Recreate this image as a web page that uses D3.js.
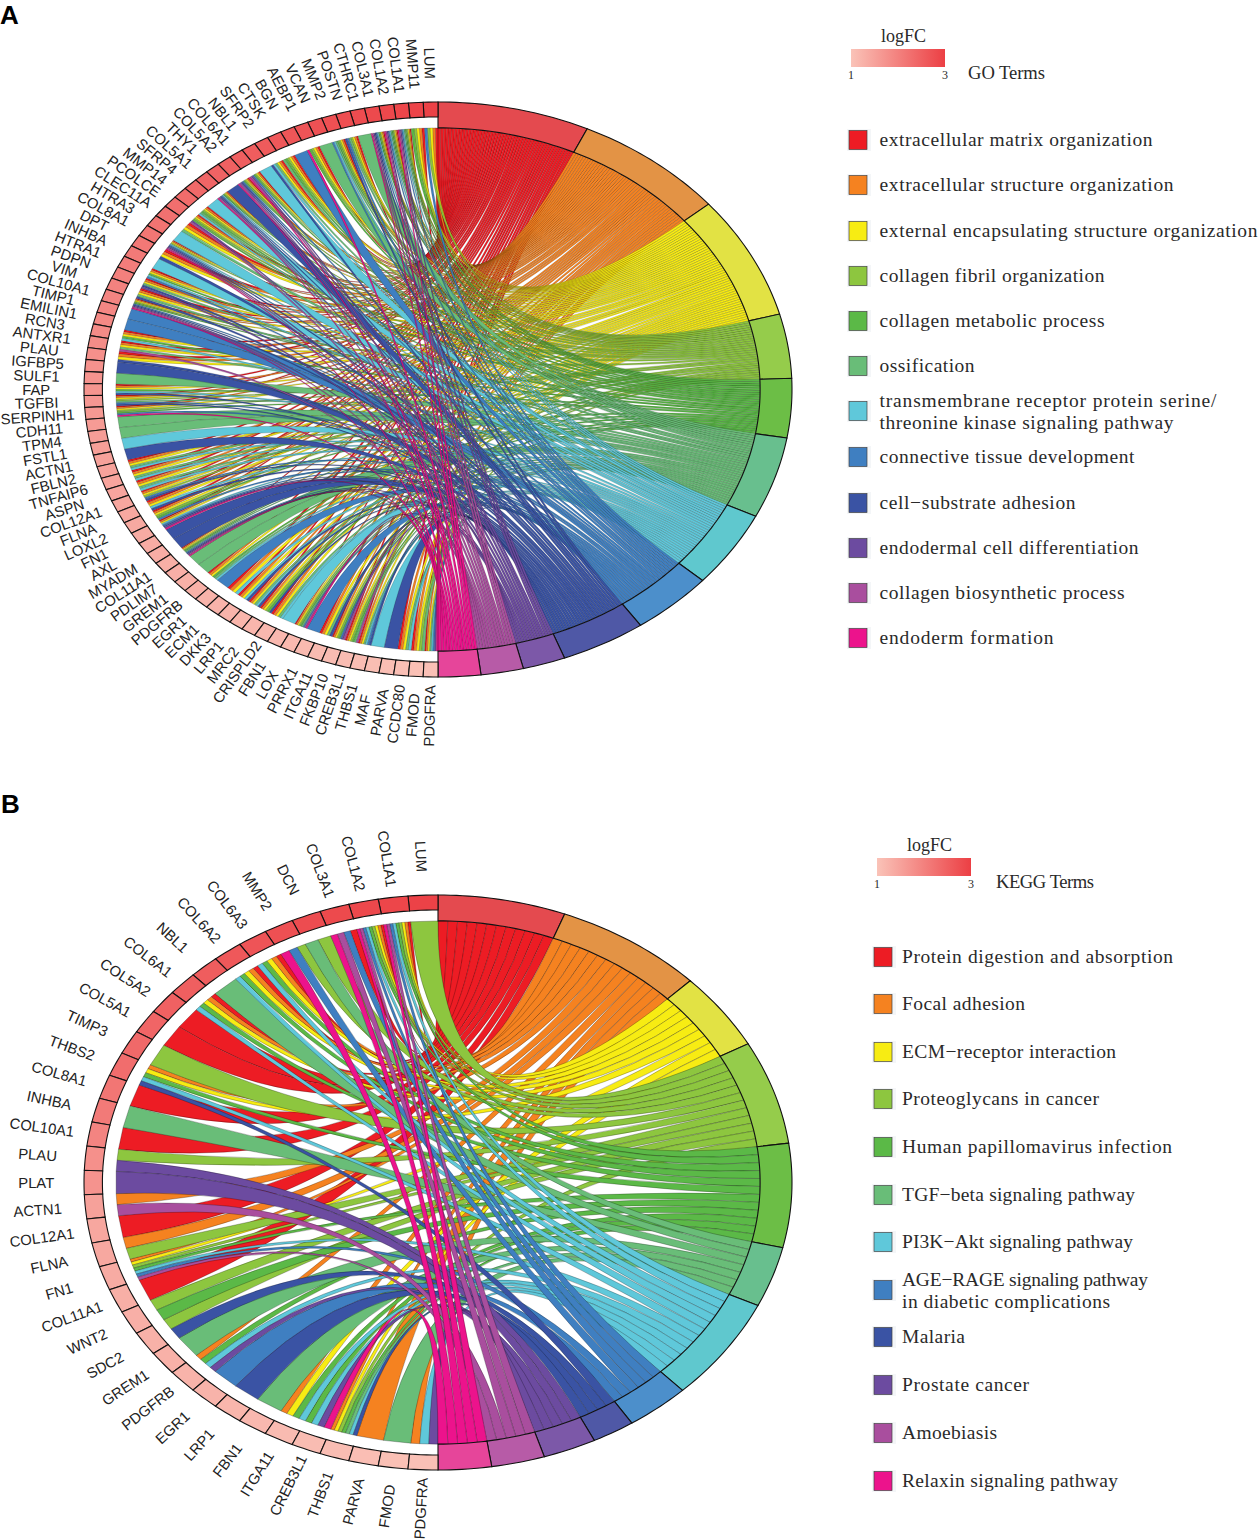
<!DOCTYPE html>
<html><head><meta charset="utf-8">
<script src="https://cdn.jsdelivr.net/npm/d3@7"></script>
<style>html,body{margin:0;padding:0;background:#fff}svg{display:block}</style></head>
<body><svg id="c" width="1258" height="1540"></svg>
<script>
const ribbonColors = ["#ED1C24","#F58220","#F7EC13","#8DC63F","#5BB947","#69BD78","#5FC8DA","#3F7FC1","#3A53A4","#6C4BA0","#A94E9E","#EC138C"];
const bandColors = ["#E44A4F","#E39345","#E2E244","#95CC4B","#6CBE46","#68BF8E","#5FC8CE","#4C8FCB","#4F58A6","#7C58A8","#B75BA7","#E6459A"];

const termsA = ["extracellular matrix organization","extracellular structure organization","external encapsulating structure organization","collagen fibril organization","collagen metabolic process","ossification",["transmembrane receptor protein serine/","threonine kinase signaling pathway"],"connective tissue development","cell\u2212substrate adhesion","endodermal cell differentiation","collagen biosynthetic process","endoderm formation"];
const genesA = ["LUM","MMP11","COL1A1","COL1A2","COL3A1","CTHRC1","POSTN","MMP2","VCAN","AEBP1","BGN","CTSK","SFRP2","NBL1","COL6A1","COL5A2","THY1","COL5A1","SFRP4","MMP14","PCOLCE","CLEC11A","HTRA3","COL8A1","DPT","INHBA","HTRA1","PDPN","VIM","COL10A1","TIMP1","EMILIN1","RCN3","ANTXR1","PLAU","IGFBP5","SULF1","FAP","TGFBI","SERPINH1","CDH11","TPM4","FSTL1","ACTN1","FBLN2","TNFAIP6","ASPN","COL12A1","FLNA","LOXL2","FN1","AXL","MYADM","COL11A1","PDLIM7","GREM1","PDGFRB","EGR1","ECM1","DKK3","LRP1","MRC2","CRISPLD2","FBN1","LOX","PRRX1","ITGA11","FKBP10","CREB3L1","THBS1","MAF","PARVA","CCDC80","FMOD","PDGFRA"];
const logFCA = [2.95,2.92,2.9,2.86,2.84,2.8,2.78,2.74,2.72,2.68,2.65,2.62,2.58,2.55,2.52,2.48,2.45,2.42,2.36,2.32,2.28,2.25,2.2,2.17,2.13,2.1,2.06,2.02,1.98,1.95,1.92,1.88,1.85,1.82,1.78,1.75,1.72,1.7,1.66,1.63,1.6,1.57,1.55,1.52,1.5,1.47,1.45,1.43,1.41,1.39,1.37,1.35,1.33,1.31,1.3,1.28,1.27,1.25,1.24,1.22,1.2,1.19,1.18,1.16,1.15,1.14,1.12,1.11,1.1,1.09,1.08,1.07,1.06,1.05,1.04];
const membersA = [[1,2,3,4,8],[1,2,3,4,5],[1,2,3,4,5,6,7,8,10,11,12],[1,2,3,4,5,6,7,8,10,11,12],[1,2,3,4,5,7,8,9,10,11,12],[6],[1,2,3,4,6,8,9],[1,2,3,4,5,6,7,8],[6],[1,2,3,4,5,12],[8],[1,2,3,4,5,6],[1,2,3,6,7,9],[7],[1,2,3,4,5,8,10,11,12],[1,2,3,4,5,8,9,10,11,12],[9],[1,2,3,4,5,7,8,9,10,11,12],[7],[1,2,3,4,5,6,7],[1,2,3,4,5,10,11],[1,2,3,6],[7],[1,2,3,4,7,8,9,10,11,12],[1,2,3,9],[7],[1,2,3,5,7,8],[1,2,3,6,9,10],[1,2,3,6,9],[1,2,3,4,5,8,9,10,11,12],[8],[8],[1,2,3,5,7],[1,2,3,6,11],[1,2,3,9],[9],[6],[1,2,3,5,7,9],[1,2,3,4,6,8,9],[1,2,3,4,5,8,12],[6],[6],[7],[9],[1,2,3,6,7],[1,2,3,6,7],[1,2,3,6,7],[1,2,3,4,8,9],[1,2,3,7,9],[1,2,3,4,5,8],[1,2,3,7,8,9,10,12],[9],[9],[1,2,3,4,5,6,8,9,10,11,12],[6],[6],[1,2,3,5,6,7],[8],[1,2,3,7],[1,2,3,7,9],[1,2,3,6,7,9],[1,2,3,4,5,9],[1,2,3,6,7],[7],[1,2,3,4,5,6,8,11,12],[8],[1,2,3,6,9],[1,2,3,4,5,8,10,11],[1,2,3,4,5,6,11],[1,2,3,6,7,8,9],[7],[9],[1,2,3,6,7],[1,2,3,4,6],[1,2,3,6,7,8,10,12]];

const termsB = ["Protein digestion and absorption","Focal adhesion","ECM\u2212receptor interaction","Proteoglycans in cancer","Human papillomavirus infection","TGF\u2212beta signaling pathway","PI3K\u2212Akt signaling pathway",["AGE\u2212RAGE signaling pathway","in diabetic complications"],"Malaria","Prostate cancer","Amoebiasis","Relaxin signaling pathway"];
const genesB = ["LUM","COL1A1","COL1A2","COL3A1","DCN","MMP2","COL6A3","COL6A2","NBL1","COL6A1","COL5A2","COL5A1","TIMP3","THBS2","COL8A1","INHBA","COL10A1","PLAU","PLAT","ACTN1","COL12A1","FLNA","FN1","COL11A1","WNT2","SDC2","GREM1","PDGFRB","EGR1","LRP1","FBN1","ITGA11","CREB3L1","THBS1","PARVA","FMOD","PDGFRA"];
const logFCB = [2.95,2.9,2.86,2.84,2.8,2.74,2.68,2.62,2.55,2.52,2.48,2.42,2.36,2.3,2.17,2.1,1.95,1.78,1.72,1.52,1.43,1.41,1.37,1.31,1.3,1.28,1.27,1.25,1.24,1.2,1.16,1.12,1.1,1.09,1.07,1.05,1.04];
const membersB = [[4],[1,2,3,4,5,7,8,11,12],[1,2,3,4,5,7,8,11,12],[1,8,11,12],[4,6],[4,8,12],[1,2,3,5,7],[1,2,3,5,7],[6],[1,2,3,5,7],[1],[1],[4],[2,3,5,7,9],[1],[6],[1],[4,10],[10],[2,11],[1],[2,4],[2,3,4,5,7,8,11],[1],[4,5],[4,9],[6],[2,5,7,10],[8],[9],[6],[2,3,5,7],[5,7,10,12],[2,3,4,5,6,7,9],[2],[6],[2,7,10]];

const tickLabels = ["1","3"];
const logFCDomain = [1,3];
const logFCColor = d3.scaleLinear().domain(logFCDomain).range(["#FAC3B8","#EC3F44"]);

const svg = d3.select("#c");
const defs = svg.append("defs");
const grad = defs.append("linearGradient").attr("id","lfc");
grad.append("stop").attr("offset","0%").attr("stop-color",logFCColor(1));
grad.append("stop").attr("offset","100%").attr("stop-color",logFCColor(3));

const RX=354, RY=287.5, R_GENE=0.948, R_IN=0.91, R_LABEL=1.135;

function chord(root, cx, cy, genes, lfc, members, strokeW){
  const g = root.append("g");
  const rad = d3.scaleLinear().domain([0,180]).range([0,Math.PI]);
  const pt = (deg,r)=>[cx+RX*r*Math.sin(rad(deg)), cy-RY*r*Math.cos(rad(deg))];
  const counts = d3.range(1,13).map(t=>members.filter(m=>m.includes(t)).length);
  const total = d3.sum(counts);
  const termA = d3.scaleLinear().domain([0,total]).range([0,180]);
  const geneA = d3.scaleLinear().domain([0,genes.length]).range([0,-180]);
  const starts = d3.cumsum([0].concat(counts));

  const band=(a0,a1,r0,r1)=>{
    const n=Math.max(2,Math.ceil(Math.abs(a1-a0)));
    const as=d3.range(n+1).map(i=>a0+(a1-a0)*i/n);
    const line=d3.line();
    return line(as.map(a=>pt(a,r1)).concat(as.slice().reverse().map(a=>pt(a,r0))))+"Z";
  };

  const ribbons=[];
  const used=counts.map(()=>0);
  genes.forEach((gn,i)=>{
    members[i].forEach((t,j)=>{
      const k=t-1, pos=starts[k]+used[k]++;
      ribbons.push({k,pos,i,j,m:members[i].length});
    });
  });
  d3.range(12).forEach(k=>{
    g.append("g").selectAll("path").data(ribbons.filter(r=>r.k===k)).join("path")
     .attr("fill",ribbonColors[k]).attr("stroke","#000").attr("stroke-width",strokeW).attr("stroke-opacity",0.5)
     .attr("d",r=>{
        const t1=pt(termA(r.pos),R_IN), t2=pt(termA(r.pos+1),R_IN);
        const a1=pt(geneA(r.i+r.j/r.m),R_IN), a2=pt(geneA(r.i+(r.j+1)/r.m),R_IN);
        const p=d3.path();
        p.moveTo(t1[0],t1[1]); p.lineTo(t2[0],t2[1]);
        p.quadraticCurveTo(cx,cy,a2[0],a2[1]);
        p.lineTo(a1[0],a1[1]);
        p.quadraticCurveTo(cx,cy,t1[0],t1[1]);
        p.closePath();
        return p.toString();
     });
  });
  g.append("g").selectAll("path").data(d3.range(12)).join("path")
   .attr("d",k=>band(termA(starts[k]),termA(starts[k+1]),R_IN,1))
   .attr("fill",k=>bandColors[k]).attr("stroke","#111").attr("stroke-width",1.1);
  g.append("g").selectAll("path").data(genes).join("path")
   .attr("d",(d,i)=>band(geneA(i),geneA(i+1),R_GENE,1))
   .attr("fill",(d,i)=>logFCColor(lfc[i])).attr("stroke","#111").attr("stroke-width",1.1);
  g.append("g").selectAll("text").data(genes).join("text")
   .text(d=>d)
   .attr("font-family","'Liberation Sans',Arial,sans-serif").attr("font-size",14.8).attr("fill","#222")
   .attr("text-anchor","middle").attr("dy","0.35em")
   .attr("transform",(d,i)=>{
      const a=geneA(i+0.5), p=pt(a,R_LABEL);
      const s=Math.sin(rad(-a)), c=Math.cos(rad(-a));
      const ang=Math.atan2(RY*c,RX*s)*180/Math.PI;
      return `translate(${p[0]},${p[1]}) rotate(${ang})`;
   });
}

const SERIF="'Liberation Serif',serif";
function legend(root, o, terms){
  const g=root.append("g");
  const T=(x,y,s,size,anchor,len)=>{
    const t=g.append("text").attr("x",x).attr("y",y).text(s)
     .attr("font-family",SERIF).attr("font-size",size).attr("fill","#2a2a2a")
     .attr("text-anchor",anchor||"start");
    if(len) t.attr("textLength",len).attr("lengthAdjust","spacing");
    return t;
  };
  T(o.barX+52.5,o.barY-7,"logFC",18,"middle");
  g.append("rect").attr("x",o.barX).attr("y",o.barY).attr("width",94).attr("height",18).attr("fill","url(#lfc)");
  T(o.barX,o.barY+30,tickLabels[0],12,"middle");
  T(o.barX+94,o.barY+30,tickLabels[1],12,"middle");
  T(o.titleX,o.barY+30,o.title,18.6,"start",o.titleLen);
  o.rows.forEach((y,i)=>{
    g.append("rect").attr("x",o.swX-2).attr("y",y-11).attr("width",24).attr("height",22).attr("fill","#F4F6F8");
    g.append("rect").attr("x",o.swX).attr("y",y-9.5).attr("width",18).attr("height",19).attr("fill",ribbonColors[i]).attr("stroke","#444").attr("stroke-width",0.7);
    const t=terms[i], w=o.widths[i];
    if(Array.isArray(t)){
      T(o.txtX,y-4.5,t[0],o.fs,"start",w[0]);
      T(o.txtX,y+17.5,t[1],o.fs,"start",w[1]);
    } else T(o.txtX,y+6,t,o.fs,"start",w);
  });
}

chord(svg,438,389.5,genesA,logFCA,membersA,0.35);
chord(svg,438,1182.5,genesB,logFCB,membersB,0.5);
legend(svg,{barX:851,barY:49,titleX:968,title:"GO Terms",titleLen:77,swX:849,txtX:879.5,fs:19.5,
  rows:[140,185,231,276,321,366,411,457,503,548,593,638],
  widths:[273,294,378,225,225,95,[337,294],255,196,259,245,174]},termsA);
legend(svg,{barX:877,barY:858,titleX:996,title:"KEGG Terms",titleLen:98,swX:874,txtX:902,fs:19.5,
  rows:[957,1004,1052,1099,1147,1195,1242,1290,1337,1385,1433,1481],
  widths:[271,123,214,197,270,233,231,[246,208],63,127,95,216]},termsB);

const P=(x,y,s)=>svg.append("text").attr("x",x).attr("y",y).text(s)
  .attr("font-family","'Liberation Sans',Arial,sans-serif").attr("font-weight","bold").attr("font-size",26).attr("fill","#000");
P(0,24,"A"); P(1,813,"B");
</script></body></html>
